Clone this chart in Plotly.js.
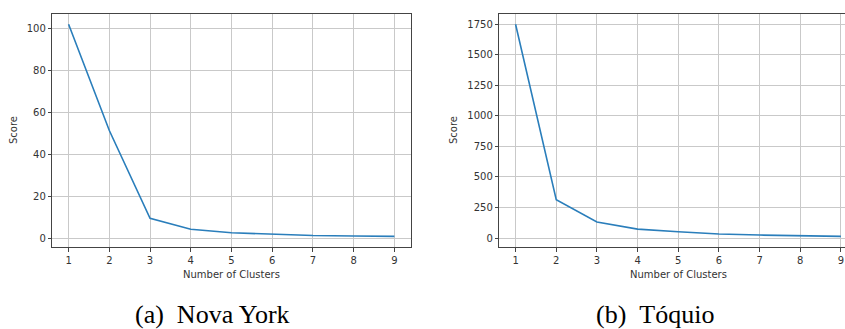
<!DOCTYPE html>
<html>
<head>
<meta charset="utf-8">
<script src="https://cdn.plot.ly/plotly-3.0.1.min.js"></script>
<style>html,body{margin:0;padding:0;background:#fff;}#chart{width:845px;height:329px;}</style>
</head>
<body>
<div id="chart"></div>
<script>
const clusters = [1, 2, 3, 4, 5, 6, 7, 8, 9];
const nyScore = [101.8, 51.2, 9.4, 4.2, 2.5, 1.7, 1.2, 1.0, 0.8];
const tokyoScore = [1748, 314, 131, 73, 51, 33, 24, 18, 13];
const nyTicks = [0, 20, 40, 60, 80, 100];
const tokyoTicks = [0, 250, 500, 750, 1000, 1250, 1500, 1750];
const xTitle = 'Number of Clusters';
const yTitle = 'Score';
const captions = ['(a)\u00a0\u00a0Nova York', '(b)\u00a0\u00a0Tóquio'];

const W = 845, H = 329;
const lineColor = '#2a7ebb';
const frame = '#444444';
const grid = '#c9c9c9';
const txt = '#333333';
const font = 'DejaVu Sans, sans-serif';

function px(x) { return x / W; }
function py(y) { return 1 - y / H; }

const traces = [
  {x: clusters, y: nyScore, type: 'scatter', mode: 'lines', line: {color: lineColor, width: 1.6}, xaxis: 'x', yaxis: 'y', hoverinfo: 'skip'},
  {x: clusters, y: tokyoScore, type: 'scatter', mode: 'lines', line: {color: lineColor, width: 1.6}, xaxis: 'x2', yaxis: 'y2', hoverinfo: 'skip'}
];

function xa(domain, range, mirror) {
  return {
    domain: domain, range: range, tickvals: clusters, ticktext: clusters.map(String),
    showgrid: true, gridcolor: grid, gridwidth: 1, zeroline: false,
    showline: true, linecolor: frame, linewidth: 1, mirror: mirror,
    ticks: 'outside', ticklen: 3.5, tickwidth: 1, tickcolor: frame,
    tickfont: {family: font, size: 10, color: txt}, fixedrange: true
  };
}
function ya(domain, range, ticks, anchor, mirror) {
  return {
    domain: domain, range: range, tickvals: ticks, ticktext: ticks.map(String), anchor: anchor,
    showgrid: true, gridcolor: grid, gridwidth: 1, zeroline: false,
    showline: true, linecolor: frame, linewidth: 1, mirror: mirror,
    ticks: 'outside', ticklen: 3.5, tickwidth: 1, tickcolor: frame,
    tickfont: {family: font, size: 10, color: txt}, fixedrange: true
  };
}

const yDom = [py(247.3), py(14)];
const capFont = {family: 'Liberation Serif, Times New Roman, serif', size: 26, color: '#000'};
const layout = {
  width: W, height: H,
  margin: {l: 0, r: 0, t: 0, b: 0},
  paper_bgcolor: '#ffffff', plot_bgcolor: '#ffffff',
  showlegend: false,
  xaxis: Object.assign(xa([px(52.3), px(410.7)], [0.6, 9.4], true), {anchor: 'y'}),
  yaxis: ya(yDom, [-4.4, 106.7], nyTicks, 'x', true),
  xaxis2: Object.assign(xa([px(499.3), 1], [0.6, 9.1], true), {anchor: 'y2'}),
  yaxis2: ya(yDom, [-76, 1832], tokyoTicks, 'x2', false),
  annotations: [
    {text: xTitle, xref: 'paper', yref: 'paper', x: px(231.5), y: py(274.5), xanchor: 'center', yanchor: 'middle', showarrow: false, font: {family: font, size: 10, color: txt}},
    {text: xTitle, xref: 'paper', yref: 'paper', x: px(678), y: py(274.5), xanchor: 'center', yanchor: 'middle', showarrow: false, font: {family: font, size: 10, color: txt}},
    {text: yTitle, xref: 'paper', yref: 'paper', x: px(13.5), y: py(130.5), xanchor: 'center', yanchor: 'middle', textangle: -90, showarrow: false, font: {family: font, size: 10, color: txt}},
    {text: yTitle, xref: 'paper', yref: 'paper', x: px(453.5), y: py(130.5), xanchor: 'center', yanchor: 'middle', textangle: -90, showarrow: false, font: {family: font, size: 10, color: txt}},
    {text: captions[0], xref: 'paper', yref: 'paper', x: px(212), y: py(314), xanchor: 'center', yanchor: 'middle', showarrow: false, font: capFont},
    {text: captions[1], xref: 'paper', yref: 'paper', x: px(655), y: py(314), xanchor: 'center', yanchor: 'middle', showarrow: false, font: capFont}
  ]
};

Plotly.newPlot('chart', traces, layout, {staticPlot: true, displayModeBar: false});
</script>
</body>
</html>
